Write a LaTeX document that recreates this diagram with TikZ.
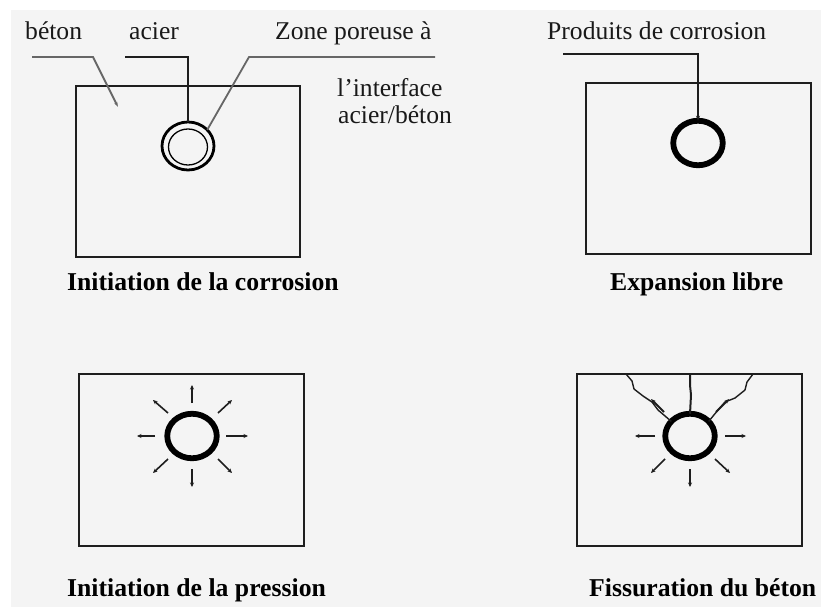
\documentclass[tikz,border=0pt]{standalone}
\usepackage{fontspec}
\setmainfont{Liberation Serif}
\usetikzlibrary{shapes.geometric,arrows.meta,calc}
\definecolor{bgc}{HTML}{F4F4F4}
\definecolor{ink}{HTML}{1E1E1E}
\tikzset{
  x=1pt,y=-1pt,
  boxn/.style={draw=ink,line width=1.5pt,minimum width=#1,inner sep=0pt,outer sep=0pt},
  label/.style={inner sep=0pt,anchor=base west,font=\fontsize{25.6}{28}\selectfont,text=black!90},
  title/.style={inner sep=0pt,anchor=base west,font=\fontsize{25.7}{28}\selectfont\bfseries,text=black},
  ring/.style={draw=black,ellipse,line width=5.8pt,minimum width=49.5pt,minimum height=44.5pt,inner sep=0pt,outer sep=0pt},
  thinring/.style={draw=black,ellipse,line width=#1,inner sep=0pt,outer sep=0pt},
  lead/.style={draw=ink,line width=1.7pt,line join=miter},
  greylead/.style={draw=black!60,line width=1.8pt},
  ray/.style={draw=ink,line width=1.6pt,-{Stealth[length=4.5pt,width=4pt]}},
  crack/.style={draw=ink,line width=1.4pt,line join=round},
}
\begin{document}
\begin{tikzpicture}
\useasboundingbox (0,0) rectangle (821,607);
\fill[white] (0,0) rectangle (821,607);
\fill[bgc] (11,10) rectangle (821,607);

% boxes
\node[boxn=224pt,minimum height=171pt,anchor=north west] (b1) at (76,86) {};
\node[boxn=225pt,minimum height=171pt,anchor=north west] (b2) at (586,83) {};
\node[boxn=225pt,minimum height=172pt,anchor=north west] (b3) at (79,374) {};
\node[boxn=225pt,minimum height=172pt,anchor=north west] (b4) at (577,374) {};

% rings
\node[thinring=2.8pt,minimum width=52pt,minimum height=48pt] (c1) at (188,146) {};
\node[thinring=1.3pt,minimum width=39pt,minimum height=36pt] (c1i) at (188,147) {};
\node[ring] (c2) at (698,143) {};
\node[ring] (c3) at (192,436) {};
\node[ring] (c4) at (690,436) {};

% text
\node[label] (t1) at (25,40) {béton};
\node[label] (t2) at (129,40) {acier};
\node[label] (t3) at (275,40) {Zone poreuse à};
\node[label] (t4) at (337,97) {l'interface};
\node[label] (t5) at (338,124) {acier/béton};
\node[label] (t6) at (547,40) {Produits de corrosion};
\node[title] (t7) at (67,290) {Initiation de la corrosion};
\node[title] (t8) at (610,290) {Expansion libre};
\node[title] (t9) at (67,596) {Initiation de la pression};
\node[title] (t10) at (589,596) {Fissuration du béton};

% leaders
\coordinate (l1) at (32,57);
\coordinate (l1e) at (118,107);
\coordinate (l2) at (125,57);
\coordinate (l3) at (435,57);
\coordinate (l4) at (563,54);
\draw[greylead,-{Stealth[length=5pt,width=3pt]}] (l1) -- (93,57) -- (l1e);
\draw[lead] (l2) -| (c1.north);
\draw[greylead] (l3) -- (249,57) -- (c1.40);
\draw[lead,-{Stealth[length=5pt,width=4pt]}] (l4) -| (c2.north);

% rays, initiation de la pression
\foreach \ax/\ay/\bx/\by in {0/-33/0/-51, 26/-23/40/-36, 34/0/56/0, 26/23/40/37, 0/33/0/51, -24/23/-39/37, -37/0/-55/0, -24/-23/-39/-36}
  \draw[ray] ($(c3)+(\ax,\ay)$) -- ($(c3)+(\bx,\by)$);

% rays, fissuration
\foreach \ax/\ay/\bx/\by in {35/0/56/0, 25/23/40/37, 0/33/0/51, -25/23/-39/37, -35/0/-55/0}
  \draw[ray] ($(c4)+(\ax,\ay)$) -- ($(c4)+(\bx,\by)$);

% cracks
\coordinate (k1) at (626,374);
\coordinate (k2) at (690,374);
\coordinate (k3) at (753,374);
\draw[crack,line width=2pt] (k2) -- (690,385) -- (691,395) -- (c4.north);
\draw[crack] (k1) -- (632,381) -- (634,389) -- (643,396) -- (652,402) -- (658,410) -- (c4.142);
\draw[crack] (k3) -- (747,382) -- (745,390) -- (735,398) -- (725,402) -- (718,410) -- (c4.38);
\draw[crack,line width=2pt,-{Stealth[length=5pt,width=4pt]}] (664,412) -- (651,399);
\draw[crack,line width=2pt,-{Stealth[length=5pt,width=4pt]}] (716,412) -- (729,399);
\end{tikzpicture}
\end{document}
